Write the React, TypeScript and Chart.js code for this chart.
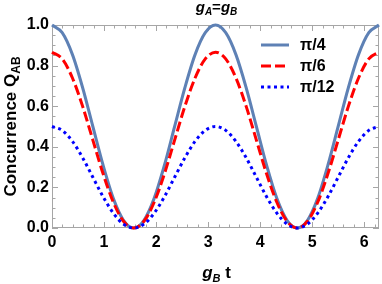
import React, { useEffect, useRef } from "react";
import { Chart, registerables } from "chart.js";

Chart.register(...registerables);

const tValues = [0, 0.196, 0.393, 0.589, 0.785, 0.982, 1.178, 1.374, 1.571, 1.767, 1.963, 2.160, 2.356, 2.553, 2.749, 2.945, 3.142, 3.338, 3.534, 3.731, 3.927, 4.123, 4.320, 4.516, 4.712, 4.909, 5.105, 5.301, 5.498, 5.694, 5.890, 6.087, 6.283];
const seriesPi4 = [1, 0.962, 0.854, 0.691, 0.5, 0.309, 0.146, 0.038, 0, 0.038, 0.146, 0.309, 0.5, 0.691, 0.854, 0.962, 1, 0.962, 0.854, 0.691, 0.5, 0.309, 0.146, 0.038, 0, 0.038, 0.146, 0.309, 0.5, 0.691, 0.854, 0.962, 1];
const seriesPi6 = [0.866, 0.833, 0.739, 0.599, 0.433, 0.267, 0.127, 0.033, 0, 0.033, 0.127, 0.267, 0.433, 0.599, 0.739, 0.833, 0.866, 0.833, 0.739, 0.599, 0.433, 0.267, 0.127, 0.033, 0, 0.033, 0.127, 0.267, 0.433, 0.599, 0.739, 0.833, 0.866];
const seriesPi12 = [0.5, 0.481, 0.427, 0.346, 0.25, 0.154, 0.073, 0.019, 0, 0.019, 0.073, 0.154, 0.25, 0.346, 0.427, 0.481, 0.5, 0.481, 0.427, 0.346, 0.25, 0.154, 0.073, 0.019, 0, 0.019, 0.073, 0.154, 0.25, 0.346, 0.427, 0.481, 0.5];
const legendLabels = ["π/4", "π/6", "π/12"];
const xTickValues = [0, 1, 2, 3, 4, 5, 6];
const xMinorStep = 0.2;
const yMinorStep = 0.05;

const FONT = '"Liberation Sans", Arial, sans-serif';
const FRAME = "#a6a6a6";

type Seg = { t: string; size: number; italic?: boolean; dy?: number };

function drawSegs(ctx: CanvasRenderingContext2D, segs: Seg[], cx: number, baseline: number) {
  const widths = segs.map((s) => {
    ctx.font = `${s.italic ? "italic " : ""}bold ${s.size}px ${FONT}`;
    return ctx.measureText(s.t).width;
  });
  const total = widths.reduce((a, b) => a + b, 0);
  let x = cx - total / 2;
  ctx.textAlign = "left";
  ctx.textBaseline = "alphabetic";
  segs.forEach((s, i) => {
    ctx.font = `${s.italic ? "italic " : ""}bold ${s.size}px ${FONT}`;
    ctx.fillText(s.t, x, baseline + (s.dy || 0));
    x += widths[i];
  });
}

const decorPlugin = {
  id: "decor",
  beforeDatasetsDraw(chart: any) {
    const { ctx, chartArea: a, scales } = chart;
    const xs = scales.x;
    const ys = scales.y;
    ctx.save();
    ctx.strokeStyle = FRAME;
    ctx.lineWidth = 1;
    ctx.strokeRect(a.left + 0.5, a.top + 0.5, a.right - a.left - 1, a.bottom - a.top - 1);
    ctx.beginPath();
    const xMax = xs.max;
    for (let i = 0; i * xMinorStep <= xMax + 1e-9; i++) {
      const v = i * xMinorStep;
      const major = i % 5 === 0;
      const len = major ? 6 : 3.5;
      const px = Math.round(xs.getPixelForValue(v)) + 0.5;
      ctx.moveTo(px, a.bottom);
      ctx.lineTo(px, a.bottom - len);
      ctx.moveTo(px, a.top);
      ctx.lineTo(px, a.top + len);
    }
    for (let i = 0; i * yMinorStep <= 1 + 1e-9; i++) {
      const v = i * yMinorStep;
      const major = i % 4 === 0;
      const len = major ? 6 : 3.5;
      const py = Math.round(ys.getPixelForValue(v)) + 0.5;
      ctx.moveTo(a.left, py);
      ctx.lineTo(a.left + len, py);
      ctx.moveTo(a.right, py);
      ctx.lineTo(a.right - len, py);
    }
    ctx.stroke();
    ctx.restore();
  },
  afterDraw(chart: any) {
    const { ctx, chartArea: a } = chart;
    ctx.save();
    ctx.fillStyle = "#000";
    const cx = (a.left + a.right) / 2;
    drawSegs(ctx, [
      { t: "g", size: 15, italic: true },
      { t: "A", size: 10, italic: true, dy: 3 },
      { t: "=", size: 15 },
      { t: "g", size: 15, italic: true },
      { t: "B", size: 10, italic: true, dy: 3 },
    ], cx + 1, 12);
    drawSegs(ctx, [
      { t: "g", size: 17, italic: true },
      { t: "B", size: 11, italic: true, dy: 4 },
      { t: " t", size: 17 },
    ], cx + 1, 278);
    ctx.save();
    ctx.translate(15.5, (a.top + a.bottom) / 2);
    ctx.rotate(-Math.PI / 2);
    drawSegs(ctx, [
      { t: "Concurrence Q", size: 17 },
      { t: "AB", size: 12, dy: 4 },
    ], 0, 0);
    ctx.restore();
    const ds = chart.data.datasets;
    const rows = [45, 66, 87];
    legendLabels.forEach((lab, i) => {
      const d = ds[i];
      ctx.save();
      ctx.strokeStyle = d.borderColor;
      ctx.lineWidth = d.borderWidth;
      ctx.setLineDash(d.borderDash || []);
      ctx.beginPath();
      ctx.moveTo(261, rows[i]);
      ctx.lineTo(289, rows[i]);
      ctx.stroke();
      ctx.restore();
      ctx.font = `bold 16px ${FONT}`;
      ctx.textAlign = "left";
      ctx.textBaseline = "middle";
      ctx.fillText(lab, 300, rows[i] + 1);
    });
    ctx.restore();
  },
};

export default function App() {
  const ref = useRef<HTMLCanvasElement | null>(null);
  useEffect(() => {
    document.body.style.margin = "0";
    const canvas = ref.current!;
    const mk = (arr: number[]) => tValues.map((t, i) => ({ x: t, y: arr[i] }));
    const chart = new Chart(canvas, {
      type: "line",
      data: {
        datasets: [
          { label: legendLabels[0], data: mk(seriesPi4), borderColor: "#5e81b5", borderWidth: 3, pointRadius: 0, cubicInterpolationMode: "monotone", order: 3, clip: false } as any,
          { label: legendLabels[1], data: mk(seriesPi6), borderColor: "#ff0000", borderWidth: 3, borderDash: [10, 4], pointRadius: 0, cubicInterpolationMode: "monotone", order: 2, clip: false } as any,
          { label: legendLabels[2], data: mk(seriesPi12), borderColor: "#0000ff", borderWidth: 3, borderDash: [3, 3.5], pointRadius: 0, cubicInterpolationMode: "monotone", order: 1, clip: false } as any,
        ],
      },
      options: {
        animation: false,
        responsive: false,
        devicePixelRatio: 1,
        layout: { padding: { top: 25, right: 3, left: 0, bottom: 0 } },
        plugins: { legend: { display: false }, tooltip: { enabled: false }, title: { display: false } },
        scales: {
          x: {
            type: "linear",
            min: 0,
            max: 6.283,
            afterBuildTicks: (s: any) => { s.ticks = xTickValues.map((v) => ({ value: v })); },
            afterFit: (s: any) => { s.height = 56; },
            grid: { display: false, drawTicks: false },
            border: { display: false },
            ticks: { color: "#000", font: { family: FONT, size: 16, weight: "bold" }, padding: 5, maxRotation: 0, autoSkip: false },
          },
          y: {
            type: "linear",
            min: 0,
            max: 1,
            ticks: { stepSize: 0.2, color: "#000", font: { family: FONT, size: 16, weight: "bold" }, padding: 3, callback: (v: any) => Number(v).toFixed(1) },
            afterFit: (s: any) => { s.width = 52; },
            grid: { display: false, drawTicks: false },
            border: { display: false },
          },
        },
      },
      plugins: [decorPlugin],
    } as any);
    return () => chart.destroy();
  }, []);
  return <canvas ref={ref} width={382} height={284} style={{ display: "block" }} />;
}
